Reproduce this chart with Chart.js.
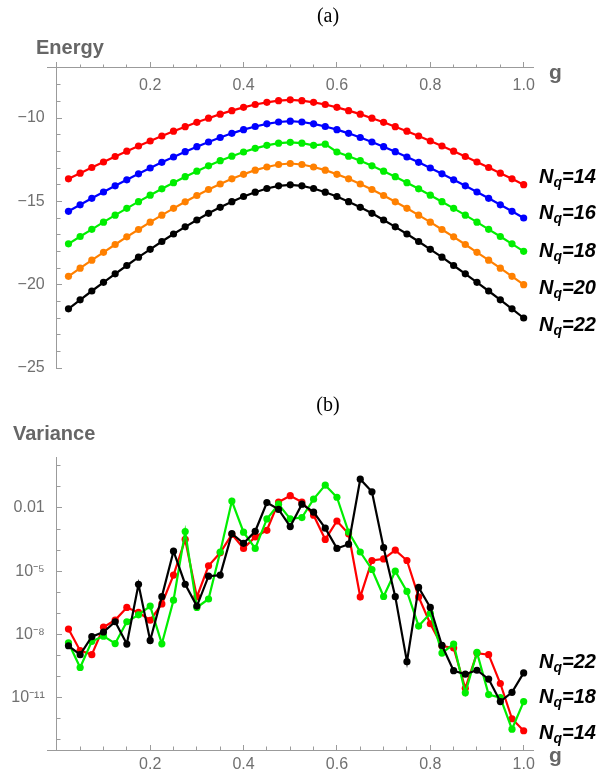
<!DOCTYPE html>
<html>
<head>
<meta charset="utf-8">
<script src="https://cdn.jsdelivr.net/npm/chart.js@4.4.1/dist/chart.umd.min.js"></script>
<style>
    body { margin: 0; background: #fff; width: 606px; height: 781px; position: relative; overflow: hidden; font-family: "Liberation Sans", Arial, sans-serif; }
    canvas { position: absolute; left: 0; }
    #energyChart { top: 0; }
    #varianceChart { top: 395px; }
    .lbl { position: absolute; white-space: nowrap; line-height: 1; transform: translateY(-50%); }
    .panel { font-family: "Liberation Serif", "DejaVu Serif", serif; font-size: 20px; color: #000; transform: translate(-50%, -50%); }
    .axis { font-weight: bold; color: #666; font-size: 20px; }
    .nq { font-weight: bold; font-style: italic; font-size: 20px; color: #000; }
    .nq sub { font-size: 14px; vertical-align: -4px; }
</style>
</head>
<body>
<canvas id="energyChart" width="606" height="395"></canvas>
<canvas id="varianceChart" width="606" height="386"></canvas>

<div class="lbl panel" style="left:328px; top:15px;">(a)</div>
<div class="lbl axis" style="left:36px; top:47px;">Energy</div>
<div class="lbl axis" style="left:549px; top:71px; font-size:21px;">g</div>
<div class="lbl nq" style="left:539px; top:177px;">N<sub>q</sub>=14</div>
<div class="lbl nq" style="left:539px; top:213px;">N<sub>q</sub>=16</div>
<div class="lbl nq" style="left:539px; top:251px;">N<sub>q</sub>=18</div>
<div class="lbl nq" style="left:539px; top:288px;">N<sub>q</sub>=20</div>
<div class="lbl nq" style="left:539px; top:325px;">N<sub>q</sub>=22</div>

<div class="lbl panel" style="left:328px; top:404px;">(b)</div>
<div class="lbl axis" style="left:13px; top:433px;">Variance</div>
<div class="lbl axis" style="left:549px; top:754px; font-size:21px;">g</div>
<div class="lbl nq" style="left:539px; top:662px;">N<sub>q</sub>=22</div>
<div class="lbl nq" style="left:539px; top:697px;">N<sub>q</sub>=18</div>
<div class="lbl nq" style="left:539px; top:733px;">N<sub>q</sub>=14</div>

<script>
// coupling values g shared by every series
const gValues = [0.025, 0.05, 0.075, 0.1, 0.125, 0.15, 0.175, 0.2, 0.225, 0.25,
    0.275, 0.3, 0.325, 0.35, 0.375, 0.4, 0.425, 0.45, 0.475, 0.5,
    0.525, 0.55, 0.575, 0.6, 0.625, 0.65, 0.675, 0.7, 0.725, 0.75,
    0.775, 0.8, 0.825, 0.85, 0.875, 0.9, 0.925, 0.95, 0.975, 1.0];

// (a) energies
const energyN14 = [-13.65, -13.31, -12.97, -12.64, -12.31, -11.99, -11.68, -11.38, -11.08, -10.79,
    -10.52, -10.26, -10.01, -9.77, -9.56, -9.36, -9.19, -9.06, -8.96, -8.91,
    -8.96, -9.06, -9.19, -9.36, -9.56, -9.77, -10.01, -10.26, -10.52, -10.79,
    -11.08, -11.38, -11.68, -11.99, -12.31, -12.64, -12.97, -13.31, -13.65, -14.00];
const energyN16 = [-15.60, -15.21, -14.82, -14.44, -14.07, -13.71, -13.35, -13.00, -12.66, -12.34,
    -12.02, -11.72, -11.44, -11.17, -10.92, -10.70, -10.51, -10.35, -10.24, -10.19,
    -10.24, -10.35, -10.51, -10.70, -10.92, -11.17, -11.44, -11.72, -12.02, -12.34,
    -12.66, -13.00, -13.35, -13.71, -14.07, -14.44, -14.82, -15.21, -15.60, -16.00];
const energyN18 = [-17.55, -17.11, -16.68, -16.25, -15.83, -15.42, -15.02, -14.63, -14.25, -13.88,
    -13.52, -13.19, -12.87, -12.56, -12.29, -12.04, -11.82, -11.64, -11.51, -11.46,
    -11.51, -11.64, -11.57, -12.04, -12.29, -12.56, -12.87, -13.19, -13.52, -13.88,
    -14.25, -14.63, -15.02, -15.42, -15.83, -16.25, -16.68, -17.11, -17.55, -18.00];
const energyN20 = [-19.50, -19.01, -18.53, -18.06, -17.59, -17.13, -16.69, -16.25, -15.83, -15.42,
    -15.03, -14.65, -14.29, -13.96, -13.65, -13.38, -13.13, -12.94, -12.79, -12.73,
    -12.79, -12.94, -13.13, -13.38, -13.65, -13.96, -14.29, -14.65, -15.03, -15.42,
    -15.83, -16.25, -16.69, -17.13, -17.59, -18.06, -18.53, -19.01, -19.50, -20.00];
const energyN22 = [-21.45, -20.91, -20.38, -19.86, -19.35, -18.85, -18.35, -17.88, -17.41, -16.96,
    -16.53, -16.12, -15.72, -15.36, -15.02, -14.71, -14.45, -14.23, -14.07, -14.01,
    -14.07, -14.23, -14.45, -14.71, -15.02, -15.36, -15.72, -16.12, -16.53, -16.96,
    -17.41, -17.88, -18.35, -18.85, -19.35, -19.86, -20.38, -20.91, -21.45, -22.00];

// (b) variances
const varianceN14 = [1.8e-8, 1.7e-9, 1.1e-9, 2.2e-8, 4.8e-8, 1.9e-7, 1.1e-7, 4.7e-8, 2.8e-7, 6.5e-6,
    3.2e-4, 6.0e-7, 1.8e-5, 7.4e-5, 5.6e-4, 1.2e-4, 4.2e-4, 8.7e-4, 1.9e-2, 3.8e-2,
    1.9e-2, 4.5e-3, 3.2e-4, 2.4e-3, 5.9e-4, 6.0e-7, 3.2e-5, 3.8e-5, 1.0e-4, 3.2e-5,
    6.0e-7, 3.2e-8, 2.8e-9, 2.3e-9, 2.8e-11, 1.3e-9, 1.1e-9, 4.7e-11, 1.0e-12, 2.7e-13];
const varianceN18 = [4.0e-9, 2.7e-10, 4.7e-9, 8.3e-9, 3.7e-9, 4.0e-8, 8.5e-8, 2.2e-7, 3.6e-9, 4.2e-7,
    7.6e-4, 1.9e-7, 4.8e-7, 8.1e-5, 2.1e-2, 7.1e-4, 1.2e-4, 3.0e-3, 1.5e-2, 3.0e-3,
    3.5e-3, 2.6e-2, 1.2e-1, 3.2e-2, 7.2e-4, 8.1e-5, 1.2e-5, 6.3e-7, 1.0e-5, 1.1e-6,
    2.5e-8, 1.0e-7, 1.3e-9, 3.5e-9, 1.7e-11, 1.4e-9, 1.4e-11, 1.0e-11, 3.2e-13, 6.5e-12];
const varianceN22 = [2.9e-9, 1.1e-9, 7.8e-9, 1.3e-8, 4.0e-8, 3.5e-9, 2.4e-6, 5.2e-9, 6.2e-7, 8.9e-5,
    2.4e-6, 2.2e-7, 5.8e-6, 6.5e-6, 6.0e-4, 2.1e-4, 7.8e-4, 1.8e-2, 8.5e-3, 1.3e-3,
    1.5e-2, 6.3e-3, 1.1e-3, 1.2e-4, 1.9e-4, 2.3e-1, 5.8e-2, 1.3e-4, 6.2e-7, 5.1e-10,
    1.7e-6, 1.9e-7, 3.0e-9, 1.9e-10, 1.3e-10, 2.0e-10, 7.6e-11, 6.5e-12, 1.8e-11, 1.5e-10];

// tick values and labels
const gTicks = [0.2, 0.4, 0.6, 0.8, 1.0];
const gMinorTicks = [0.05, 0.1, 0.15, 0.25, 0.3, 0.35, 0.45, 0.5, 0.55, 0.65, 0.7, 0.75, 0.85, 0.9, 0.95];
const energyTicks = [-10, -15, -20, -25];
const energyMinorTicks = [-7, -8, -9, -11, -12, -13, -14, -16, -17, -18, -19, -21, -22, -23, -24];
const varianceTicks = [1e-2, 1e-5, 1e-8, 1e-11];
const varianceTickLabels = ['0.01', '10\u207B\u2075', '10\u207B\u2078', '10\u207B\u00B9\u00B9'];
const varianceMinorTicks = [1, 1e-1, 1e-3, 1e-4, 1e-6, 1e-7, 1e-9, 1e-10, 1e-12, 1e-13];

const axisColor = '#9b9b9b';
const tickFont = { family: '"Liberation Sans", Arial, sans-serif', size: 16 };
const tickColor = '#707070';
const labelGap = '  \u2009';

function toPoints(values) {
    return gValues.map((g, i) => ({ x: g, y: values[i] }));
}

function series(values, color) {
    return {
        data: toPoints(values),
        borderColor: color,
        backgroundColor: color,
        borderWidth: 2.2,
        pointRadius: 3.6,
        pointBorderWidth: 0,
        showLine: true,
        tension: 0
    };
}

// tick marks only, no labels, no axis line
function tickScale(axis, type, min, max, position, values, length) {
    return {
        axis: axis, type: type, min: min, max: max, position: position,
        afterBuildTicks: (s) => { s.ticks = values.map(v => ({ value: v })); },
        grid: { drawOnChartArea: false, drawTicks: true, tickLength: length, color: axisColor },
        border: { display: false },
        ticks: { display: false }
    };
}

function baseOptions(padding) {
    return {
        responsive: false,
        animation: false,
        layout: { padding: padding },
        plugins: { legend: { display: false }, tooltip: { enabled: false } }
    };
}

// (a) Energy
const gMin = -0.021, gMax = 1.02;
const eMin = -25, eMax = -6.64, eAxisAt = -7.0;

const energyOptions = baseOptions({ left: 47, right: 73, top: 62, bottom: 27 });
energyOptions.scales = {
    x: {
        type: 'linear', min: gMin, max: gMax, position: { y: eAxisAt },
        afterBuildTicks: (s) => { s.ticks = gTicks.map(v => ({ value: v })); },
        grid: { drawOnChartArea: false, drawTicks: true, tickLength: -6, color: axisColor },
        border: { color: axisColor, width: 1 },
        ticks: { padding: 14, color: tickColor, font: tickFont, maxRotation: 0, autoSkip: false,
            callback: (v) => v.toFixed(1) }
    },
    xMinor: tickScale('x', 'linear', gMin, gMax, { y: eAxisAt }, gMinorTicks, -3.5),
    y: {
        type: 'linear', min: eMin, max: eMax, position: { x: 0 },
        afterBuildTicks: (s) => { s.ticks = energyTicks.map(v => ({ value: v })); },
        grid: { drawOnChartArea: false, drawTicks: true, tickLength: -6, color: axisColor },
        border: { color: axisColor, width: 1 },
        ticks: { color: tickColor, font: tickFont, autoSkip: false,
            callback: (v) => '\u2212' + Math.abs(v) + labelGap }
    },
    yMinor: tickScale('y', 'linear', eMin, eMax, { x: 0 }, energyMinorTicks, -3.5)
};

new Chart(document.getElementById('energyChart'), {
    type: 'scatter',
    data: {
        datasets: [
            series(energyN14, '#ff0000'),
            series(energyN16, '#0000ff'),
            series(energyN18, '#00ee00'),
            series(energyN20, '#ff8000'),
            series(energyN22, '#000000')
        ]
    },
    options: energyOptions
});

// (b) Variance
const vMin = 3.3e-14, vMax = 2.6;

const varianceOptions = baseOptions({ left: 47, right: 73, top: 62, bottom: 31 });
varianceOptions.scales = {
    x: {
        type: 'linear', min: gMin, max: gMax, position: { y: vMin },
        afterBuildTicks: (s) => { s.ticks = gTicks.map(v => ({ value: v })); },
        grid: { drawOnChartArea: false, drawTicks: true, tickLength: -6, color: axisColor },
        border: { color: axisColor, width: 1 },
        ticks: { padding: 11, color: tickColor, font: tickFont, maxRotation: 0, autoSkip: false,
            callback: (v) => v.toFixed(1) }
    },
    xMinor: tickScale('x', 'linear', gMin, gMax, { y: vMin }, gMinorTicks, -3.5),
    y: {
        type: 'logarithmic', min: vMin, max: vMax, position: { x: 0 },
        afterBuildTicks: (s) => { s.ticks = varianceTicks.map(v => ({ value: v })); },
        grid: { drawOnChartArea: false, drawTicks: true, tickLength: -6, color: axisColor },
        border: { color: axisColor, width: 1 },
        ticks: { color: tickColor, font: tickFont, autoSkip: false,
            callback: (v) => varianceTickLabels[varianceTicks.indexOf(v)] + labelGap }
    },
    yMinor: tickScale('y', 'logarithmic', vMin, vMax, { x: 0 }, varianceMinorTicks, -3.5)
};

// first dataset is drawn on top
new Chart(document.getElementById('varianceChart'), {
    type: 'scatter',
    data: {
        datasets: [
            series(varianceN22, '#000000'),
            series(varianceN18, '#00ee00'),
            series(varianceN14, '#ff0000')
        ]
    },
    options: varianceOptions
});
</script>
</body>
</html>
